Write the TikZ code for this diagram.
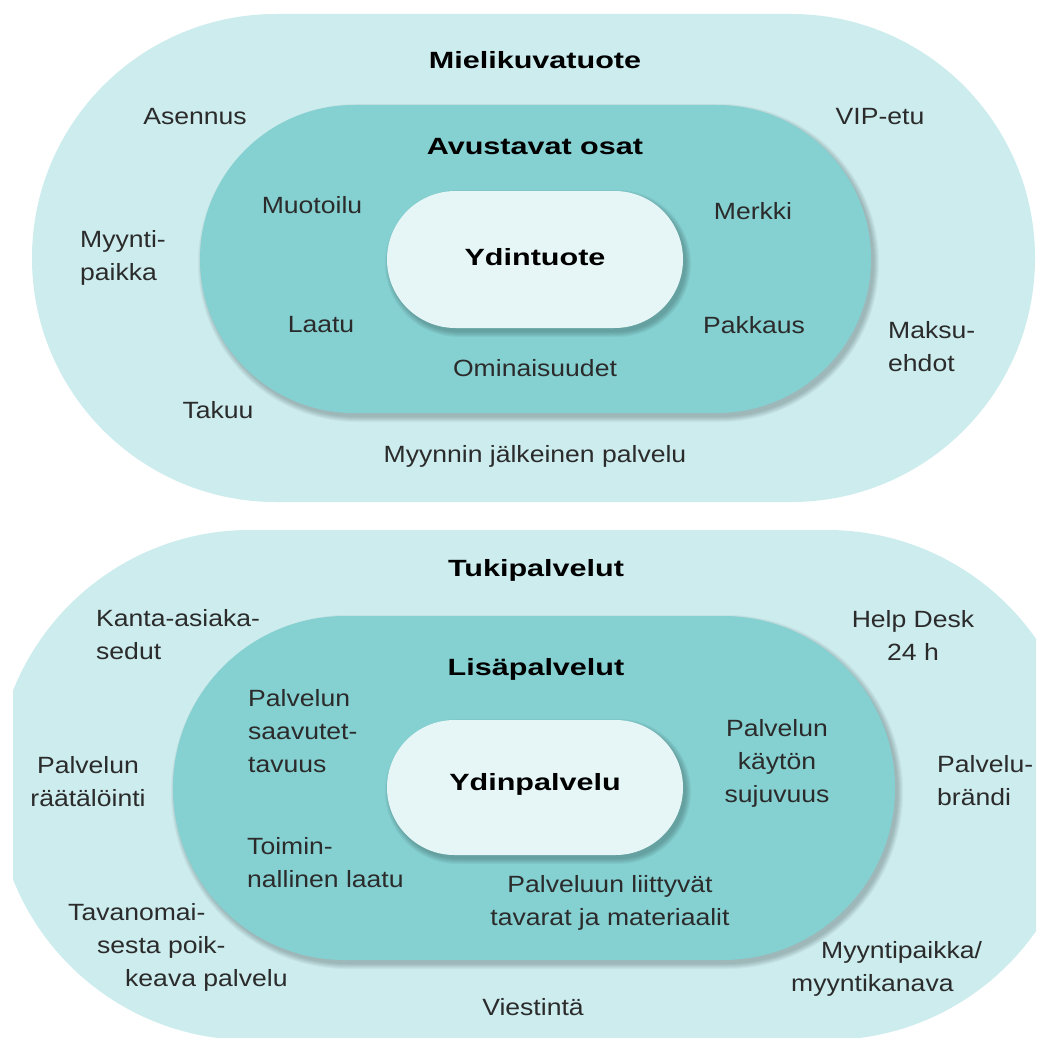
\documentclass[tikz,border=0pt]{standalone}
\usepackage{fontspec}
\setmainfont{Liberation Sans}[FakeStretch=1.13]
\newfontfamily\headfont{Liberation Sans}[FakeStretch=1.3]

\definecolor{outerc}{HTML}{CCECEE}
\definecolor{midc}{HTML}{85D0D1}
\definecolor{innerc}{HTML}{E6F6F7}
\definecolor{txtgray}{HTML}{2B2B2B}

% a stadium (pill) filled with style #1 between corners (#2,#3) and (#4,#5)
\newcommand\pill[5]{%
  \pgfmathsetmacro\pillr{((#5)-(#3))/2-0.01}%
  \fill[#1, rounded corners=\pillr pt] (#2,#3) rectangle (#4,#5);}
% a soft shadow under a stadium, slightly to the lower right
\newcommand\pillshadow[4]{%
  \foreach \e in {0,...,5}{%
    \pgfmathsetmacro\sxa{#1-\e+3}%
    \pgfmathsetmacro\sya{#2-\e+4}%
    \pgfmathsetmacro\sxb{#3+\e+3}%
    \pgfmathsetmacro\syb{#4+\e+4}%
    \pill{black,opacity=0.04}{\sxa}{\sya}{\sxb}{\syb}}}

\begin{document}
\begin{tikzpicture}[x=1pt,y=-1pt,
  lbl/.style={inner sep=0pt, text=txtgray, align=center,
    font=\fontsize{23.5}{33}\selectfont},
  lblL/.style={lbl, align=left, anchor=west},
  head/.style={inner sep=0pt, text=black,
    font=\headfont\bfseries\fontsize{23.5}{33}\selectfont}]
\useasboundingbox (0,0) rectangle (1036,1038);
\fill[white] (0,0) rectangle (1036,1038);

% ---------- product layers ----------
\pill{outerc}{32}{14}{1035}{502}
\pillshadow{200}{105}{871}{413}
\pill{midc}{200}{105}{871}{413}
\pillshadow{387}{191}{683}{328}
\pill{innerc}{387}{191}{683}{328}

\node[head] (mielikuva) at (535,60) {Mielikuvatuote};
\node[lbl] (asennus) at (195,117) {Asennus};
\node[lbl] (vip) at (880,117) {VIP-etu};
\node[head] (avustavat) at (535,147) {Avustavat osat};
\node[lbl] (muotoilu) at (312,205) {Muotoilu};
\node[lbl] (merkki) at (753,211) {Merkki};
\node[lblL] (myyntipaikka) at (80,258) {Myynti-\\paikka};
\node[head] (ydintuote) at (535,257) {Ydintuote};
\node[lbl] (laatu) at (321,325) {Laatu};
\node[lbl] (pakkaus) at (754,325) {Pakkaus};
\node[lblL] (maksu) at (888,347) {Maksu-\\ehdot};
\node[lbl] (ominaisuudet) at (535,368) {Ominaisuudet};
\node[lbl] (takuu) at (218,410) {Takuu};
\node[lbl] (jalkeinen) at (535,456) {Myynnin jälkeinen palvelu};

% ---------- service layers ----------
\begin{scope}
  \clip (13,0) rectangle (1036,1038);
  \pill{outerc}{-5}{530}{1082}{1040}
\end{scope}
\pillshadow{173}{616}{895}{960}
\pill{midc}{173}{616}{895}{960}
\pillshadow{387}{720}{683}{855}
\pill{innerc}{387}{720}{683}{855}

\node[head] (tuki) at (536,570) {Tukipalvelut};
\node[lblL] (kanta) at (96,635) {Kanta-asiaka-\\sedut};
\node[lbl] (helpdesk) at (913,635) {Help Desk\\24 h};
\node[head] (lisa) at (536,669) {Lisäpalvelut};
\node[lblL] (saavutettavuus) at (248,731) {Palvelun\\saavutet-\\tavuus};
\node[lbl] (sujuvuus) at (777,763) {Palvelun\\käytön\\sujuvuus};
\node[lbl] (raatalointi) at (88,782) {Palvelun\\räätälöinti};
\node[head] (ydinpalvelu) at (535,784) {Ydinpalvelu};
\node[lblL] (brandi) at (937,781) {Palvelu-\\brändi};
\node[lblL] (toiminnallinen) at (247,863) {Toimin-\\nallinen laatu};
\node[lbl] (tavarat) at (610,903) {Palveluun liittyvät\\tavarat ja materiaalit};
\node[lblL] (poikkeava) at (68,947)
  {Tavanomai-\\\hspace*{29pt}sesta poik-\\\hspace*{57pt}keava palvelu};
\node[lblL] (kanava) at (791,969) {\hspace*{30pt}Myyntipaikka/\\myyntikanava};
\node[lbl] (viestinta) at (533,1007) {Viestintä};
\end{tikzpicture}
\end{document}
